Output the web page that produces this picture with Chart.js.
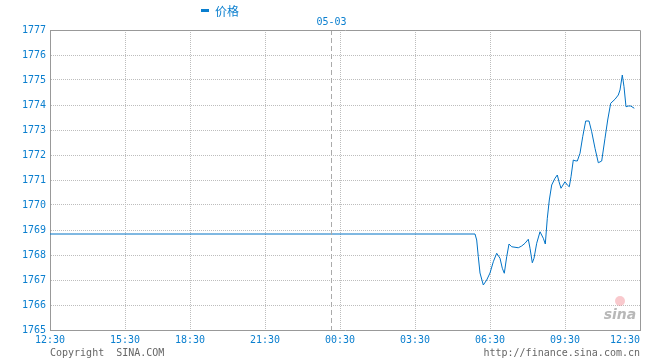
<!DOCTYPE html>
<html>
<head>
<meta charset="utf-8">
<script src="https://cdn.jsdelivr.net/npm/chart.js@4.4.1/dist/chart.umd.min.js"></script>
<style>
  body { margin: 0; background: #fff; }
  #wrap { width: 660px; height: 360px; }
</style>
</head>
<body>
<div id="wrap"><canvas id="myChart" width="660" height="360"></canvas></div>
<script>
// x is in time slots from 12:30 (axis is not evenly spaced in hours)
let tickSlots = [0, 75, 140, 215, 290, 365, 440, 515, 590];
let tickLabels = ["12:30", "15:30", "18:30", "21:30", "00:30", "03:30", "06:30", "09:30", "12:30"];
let dateSlot = 281;
let dateLabel = "05-03";

// price line
let priceSlots = [0, 425, 426.7, 428.3, 430, 433.3, 436.7, 440, 443.3, 446.7, 450, 452.3, 454.3, 456.7, 459, 461.7, 468.3, 471.7, 475, 478.3, 480, 482.3, 484, 486.7, 490, 493.3, 495.3, 497.3, 499.3, 501.7, 505, 507.3, 509, 511, 515, 517.3, 519.3, 521, 523.3, 525, 527.3, 530, 532.7, 535.7, 539, 541.7, 545, 548.3, 551.7, 555, 557.7, 560.7, 565, 568.3, 570, 572.3, 574, 576, 578.3, 580.7, 584.3];
let priceValues = [1768.84, 1768.84, 1768.6, 1767.93, 1767.28, 1766.8, 1767.0, 1767.28, 1767.73, 1768.07, 1767.87, 1767.47, 1767.27, 1767.93, 1768.44, 1768.33, 1768.29, 1768.36, 1768.47, 1768.63, 1768.27, 1767.69, 1767.87, 1768.47, 1768.93, 1768.67, 1768.44, 1769.47, 1770.2, 1770.8, 1771.07, 1771.2, 1770.93, 1770.67, 1770.93, 1770.8, 1770.73, 1771.13, 1771.8, 1771.77, 1771.76, 1772.07, 1772.73, 1773.36, 1773.36, 1772.93, 1772.27, 1771.69, 1771.76, 1772.67, 1773.4, 1774.07, 1774.23, 1774.4, 1774.6, 1775.2, 1774.73, 1773.93, 1773.96, 1773.96, 1773.87];

let yMin = 1765;
let yMax = 1777;

let blue = '#0a7fcf';
let lineBlue = '#0073c6';
let gridGrey = '#bdbdbd';
let borderGrey = '#999999';
let mono = '"DejaVu Sans Mono", monospace';

// extra texts, frame and the date line
let extras = {
    id: 'extras',
    beforeDraw(chart) {
        // last time label sits inside the frame
        let items = chart.scales.x.getLabelItems();
        if (items.length) items[items.length - 1].options.textAlign = 'right';
    },
    afterDraw(chart) {
        let ctx = chart.ctx;
        let a = chart.chartArea;
        let xs = chart.scales.x;
        ctx.save();

        // date boundary
        let dx = Math.round(xs.getPixelForValue(dateSlot)) + 0.5;
        ctx.strokeStyle = '#aaaaaa';
        ctx.lineWidth = 1;
        ctx.setLineDash([5, 3]);
        ctx.beginPath();
        ctx.moveTo(dx, a.top);
        ctx.lineTo(dx, a.bottom);
        ctx.stroke();
        ctx.setLineDash([]);

        // frame top and right
        ctx.strokeStyle = borderGrey;
        ctx.beginPath();
        ctx.moveTo(Math.round(a.left) + 0.5, Math.round(a.top) + 0.5);
        ctx.lineTo(Math.round(a.right) + 0.5, Math.round(a.top) + 0.5);
        ctx.lineTo(Math.round(a.right) + 0.5, Math.round(a.bottom) + 0.5);
        ctx.stroke();

        ctx.fillStyle = blue;
        ctx.font = '10px ' + mono;
        ctx.textAlign = 'center';
        ctx.textBaseline = 'middle';
        ctx.fillText(dateLabel, dx, 22);

        // legend
        ctx.fillRect(201, 9, 8, 3);
        ctx.font = '12px "Noto Sans CJK SC", sans-serif';
        ctx.textAlign = 'left';
        ctx.fillText('价格', 215, 11);

        // footer
        ctx.fillStyle = '#666666';
        ctx.font = '10px ' + mono;
        ctx.fillText('Copyright  SINA.COM', 50, 353);
        ctx.textAlign = 'right';
        ctx.fillText('http://finance.sina.com.cn', 640, 353);

        // watermark
        ctx.fillStyle = 'rgba(240,120,130,0.4)';
        ctx.beginPath();
        ctx.arc(620, 301, 5, 0, Math.PI * 2);
        ctx.fill();
        ctx.fillStyle = 'rgba(160,160,160,0.75)';
        ctx.font = 'italic bold 14px "DejaVu Sans", sans-serif';
        ctx.textAlign = 'center';
        ctx.fillText('sina', 620, 315);
        ctx.restore();
    }
};

const ctx = document.getElementById('myChart').getContext('2d');
const myChart = new Chart(ctx, {
    type: 'line',
    data: {
        datasets: [{
            label: '价格',
            data: priceSlots.map((s, i) => ({x: s, y: priceValues[i]})),
            borderColor: lineBlue,
            borderWidth: 1,
            pointRadius: 0,
            tension: 0,
            fill: false
        }]
    },
    options: {
        responsive: false,
        animation: false,
        layout: { padding: { top: 30, right: 20, left: 0, bottom: 0 } },
        plugins: {
            legend: { display: false },
            tooltip: { enabled: false }
        },
        scales: {
            x: {
                type: 'linear',
                min: tickSlots[0],
                max: tickSlots[tickSlots.length - 1],
                afterBuildTicks: (scale) => {
                    scale.ticks = tickSlots.map(v => ({value: v}));
                },
                afterFit: (scale) => { scale.height = 30; },
                ticks: {
                    autoSkip: false,
                    maxRotation: 0,
                    padding: 4,
                    color: blue,
                    font: { family: mono, size: 10 },
                    callback: (v) => tickLabels[tickSlots.indexOf(v)]
                },
                grid: {
                    drawTicks: false,
                    color: (c) => (c.index === 0 || c.index === tickSlots.length - 1) ? 'rgba(0,0,0,0)' : gridGrey
                },
                border: { display: true, color: borderGrey, width: 1, dash: [1, 1] }
            },
            y: {
                min: yMin,
                max: yMax,
                afterFit: (scale) => { scale.width = 50; },
                ticks: {
                    stepSize: 1,
                    padding: 4,
                    color: blue,
                    font: { family: mono, size: 10 },
                    callback: (v) => String(v)
                },
                grid: {
                    drawTicks: false,
                    color: (c) => (c.tick && (c.tick.value === yMin || c.tick.value === yMax)) ? 'rgba(0,0,0,0)' : gridGrey
                },
                border: { display: true, color: borderGrey, width: 1, dash: [1, 1] }
            }
        }
    },
    plugins: [extras]
});
</script>
</body>
</html>
